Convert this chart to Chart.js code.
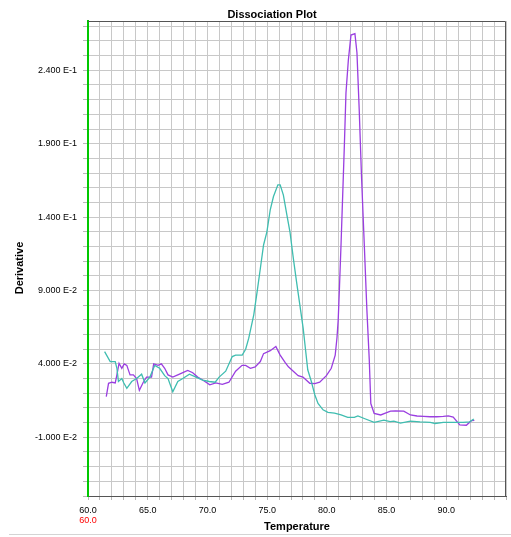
<!DOCTYPE html>
<html>
<head>
<meta charset="utf-8">
<title>Dissociation Plot</title>
<script src="https://cdn.jsdelivr.net/npm/chart.js@4.4.1/dist/chart.umd.min.js"></script>
<style>
  html, body { margin: 0; padding: 0; background: #fff; }
  #wrap { width: 511px; height: 537px; }
</style>
</head>
<body>
<div id="wrap"><canvas id="dissociation-chart" width="511" height="537"></canvas></div>
<script>
// readings taken off the plot (temperature in degC, derivative)
const tealTemp = [61.39, 61.86, 62.28, 62.42, 62.55, 62.83, 63.0, 63.25, 63.66, 64.07, 64.49, 64.77, 65.18, 65.59, 66.0, 66.42, 66.7, 67.1, 67.52, 67.94, 68.49, 69.05, 69.6, 70.15, 70.65, 70.98, 71.53, 72.08, 72.36, 72.91, 73.2, 73.46, 73.88, 74.16, 74.43, 74.7, 74.98, 75.26, 75.53, 75.9, 76.09, 76.36, 76.64, 76.91, 77.19, 77.46, 77.74, 78.02, 78.21, 78.4, 78.7, 78.99, 79.26, 79.68, 80.09, 80.64, 81.19, 81.75, 82.3, 82.6, 83.13, 83.96, 84.78, 85.3, 85.61, 86.16, 86.99, 87.8, 88.65, 89.06, 89.75, 90.58, 91.4, 91.96, 92.3];
const tealDeriv = [0.0484, 0.0416, 0.0416, 0.037, 0.028, 0.030, 0.027, 0.0234, 0.028, 0.030, 0.033, 0.027, 0.031, 0.039, 0.037, 0.032, 0.030, 0.021, 0.028, 0.030, 0.033, 0.031, 0.029, 0.028, 0.0275, 0.031, 0.035, 0.045, 0.046, 0.046, 0.050, 0.0575, 0.0734, 0.089, 0.105, 0.121, 0.130, 0.145, 0.154, 0.162, 0.162, 0.155, 0.142, 0.130, 0.112, 0.096, 0.080, 0.064, 0.050, 0.036, 0.028, 0.019, 0.013, 0.0087, 0.007, 0.0065, 0.0052, 0.0035, 0.0035, 0.0045, 0.0028, 0.0002, 0.0017, 0.0007, 0.001, -0.0003, 0.001, 0.0005, 0.0002, -0.0006, 0.0001, 0.0002, 0.0002, 0.0005, 0.0025];

const purpleTemp = [61.53, 61.72, 62.0, 62.28, 62.42, 62.6, 62.83, 63.03, 63.25, 63.52, 63.8, 64.07, 64.3, 64.63, 64.9, 65.32, 65.5, 65.87, 66.14, 66.42, 66.7, 67.1, 67.52, 67.94, 68.35, 68.77, 69.18, 69.6, 70.2, 70.7, 71.25, 71.8, 72.36, 72.9, 73.2, 73.6, 74.0, 74.43, 74.7, 75.26, 75.73, 76.09, 76.5, 76.78, 77.19, 77.6, 78.0, 78.57, 78.99, 79.4, 79.96, 80.37, 80.7, 80.85, 80.95, 81.06, 81.19, 81.33, 81.47, 81.6, 81.8, 82.02, 82.35, 82.52, 82.71, 82.9, 83.13, 83.35, 83.55, 83.68, 83.96, 84.51, 84.9, 85.33, 85.75, 86.44, 87.0, 87.55, 88.1, 88.65, 89.2, 89.75, 90.17, 90.58, 91.13, 91.68, 92.1, 92.35];
const purpleDeriv = [0.0177, 0.0268, 0.0275, 0.027, 0.0325, 0.0404, 0.037, 0.040, 0.039, 0.0325, 0.0325, 0.030, 0.022, 0.0275, 0.031, 0.031, 0.040, 0.039, 0.040, 0.037, 0.0325, 0.031, 0.0325, 0.034, 0.0355, 0.034, 0.031, 0.029, 0.0257, 0.027, 0.026, 0.0275, 0.035, 0.039, 0.039, 0.037, 0.038, 0.0416, 0.047, 0.049, 0.0518, 0.046, 0.041, 0.038, 0.035, 0.032, 0.031, 0.0268, 0.0265, 0.0275, 0.032, 0.037, 0.046, 0.058, 0.070, 0.093, 0.122, 0.156, 0.190, 0.2246, 0.247, 0.264, 0.265, 0.252, 0.213, 0.168, 0.122, 0.077, 0.043, 0.013, 0.0063, 0.0052, 0.0065, 0.0078, 0.008, 0.0078, 0.0052, 0.0045, 0.0043, 0.004, 0.004, 0.0042, 0.0046, 0.0037, -0.0016, -0.0018, 0.0013, 0.0015];

const xTickLabels = [60, 65, 70, 75, 80, 85, 90];
const yTickLabels = [-0.01, 0.04, 0.09, 0.14, 0.19, 0.24];

const FONT = "'Liberation Sans', Arial, sans-serif";

function points(xs, ys) {
  return xs.map((x, i) => ({ x: x, y: ys[i] }));
}

// frame, titles and the red start temperature
const decorations = {
  id: 'decorations',
  afterDraw(chart) {
    const ctx = chart.ctx;
    const a = chart.chartArea;
    ctx.save();
    ctx.strokeStyle = '#555';
    ctx.lineWidth = 1;
    ctx.beginPath();
    ctx.moveTo(a.left, a.top + 0.5);
    ctx.lineTo(a.right - 0.5, a.top + 0.5);
    ctx.lineTo(a.right - 0.5, a.bottom);
    ctx.stroke();

    ctx.strokeStyle = '#d4d4d4';
    ctx.beginPath();
    ctx.moveTo(9, 534.5);
    ctx.lineTo(511, 534.5);
    ctx.stroke();

    ctx.fillStyle = '#000';
    ctx.textAlign = 'center';
    ctx.textBaseline = 'middle';
    ctx.font = 'bold 11px ' + FONT;
    ctx.fillText('Dissociation Plot', 272, 15);
    ctx.fillText('Temperature', 297, 527);
    ctx.save();
    ctx.translate(20, 268);
    ctx.rotate(-Math.PI / 2);
    ctx.fillText('Derivative', 0, 0);
    ctx.restore();

    ctx.font = '9px ' + FONT;
    ctx.fillStyle = '#ff0000';
    ctx.fillText('60.0', chart.scales.x.getPixelForValue(60), 521);
    ctx.restore();
  }
};

new Chart(document.getElementById('dissociation-chart'), {
  type: 'line',
  data: {
    datasets: [
      {
        label: 'well A',
        data: points(tealTemp, tealDeriv),
        borderColor: '#3fbdb0',
        borderWidth: 1.3,
        pointRadius: 0,
        tension: 0,
        fill: false
      },
      {
        label: 'well B',
        data: points(purpleTemp, purpleDeriv),
        borderColor: '#9a3ee0',
        borderWidth: 1.3,
        pointRadius: 0,
        tension: 0,
        fill: false
      }
    ]
  },
  options: {
    responsive: false,
    animation: false,
    devicePixelRatio: 1,
    layout: { padding: { top: 21, right: 1, left: 0, bottom: 0 } },
    plugins: {
      legend: { display: false },
      tooltip: { enabled: false },
      title: { display: false }
    },
    scales: {
      x: {
        type: 'linear',
        min: 60,
        max: 95,
        afterBuildTicks(scale) {
          const t = [];
          for (let v = 60; v <= 95; v++) t.push({ value: v });
          scale.ticks = t;
        },
        afterFit(scale) { scale.height = 41; },
        ticks: {
          autoSkip: false,
          maxRotation: 0,
          padding: 5,
          color: '#000',
          font: { family: FONT, size: 9 },
          callback: (v) => (xTickLabels.includes(v) ? v.toFixed(1) : '')
        },
        grid: { color: '#c8c8c8', tickLength: 4, tickColor: '#b8b8b8' },
        border: { color: '#555', width: 1 }
      },
      y: {
        type: 'linear',
        min: -0.05,
        max: 0.2736,
        afterBuildTicks(scale) {
          const t = [];
          for (let i = -5; i <= 27; i++) t.push({ value: i / 100 });
          scale.ticks = t;
        },
        afterFit(scale) { scale.width = 88; },
        ticks: {
          autoSkip: false,
          padding: 6,
          color: '#000',
          font: { family: FONT, size: 9 },
          callback: (v) => (yTickLabels.some((t) => Math.abs(t - v) < 1e-9)
            ? v.toExponential(3).replace('e', ' E') : '')
        },
        grid: { color: '#c8c8c8', tickLength: 5, tickColor: '#b8b8b8' },
        border: { color: '#00c800', width: 2 }
      }
    }
  },
  plugins: [decorations]
});
</script>
</body>
</html>
